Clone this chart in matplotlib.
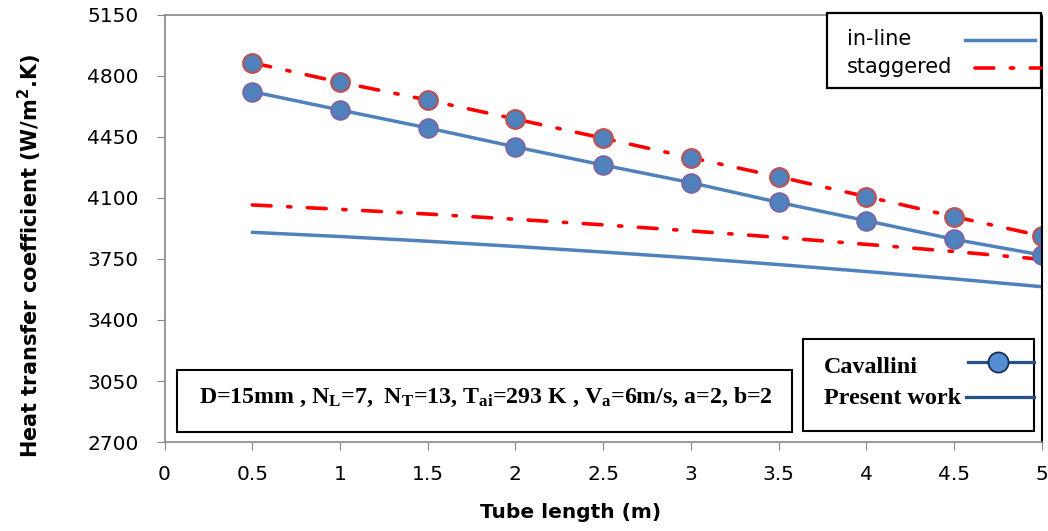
import matplotlib.pyplot as plt
from matplotlib.patches import Rectangle

# --- Data ---
tube_length = [0.5, 1.0, 1.5, 2.0, 2.5, 3.0, 3.5, 4.0, 4.5, 5.0]

cav_staggered = [4876, 4764, 4662, 4553, 4443, 4331, 4222, 4108, 3993, 3882]
cav_inline = [4710, 4605, 4502, 4393, 4289, 4188, 4075, 3970, 3863, 3773]
present_staggered = [4060, 4035, 4008, 3978, 3946, 3911, 3874, 3834, 3793, 3748]
present_inline = [3903, 3879, 3852, 3822, 3790, 3756, 3718, 3678, 3636, 3591]

x_ticks = [0, 0.5, 1, 1.5, 2, 2.5, 3, 3.5, 4, 4.5, 5]
y_ticks = [2700, 3050, 3400, 3750, 4100, 4450, 4800, 5150]

arrangement_labels = ['in-line', 'staggered']
source_labels = ['Cavallini', 'Present work']
params_text = r'D=15mm , N$_{L}$=7,  N$_{T}$=13, T$_{ai}$=293 K , V$_{a}$=6m/s, a=2, b=2'

# --- Style ---
BLUE = '#4F81BD'
RED = '#FF0000'
NAVY = '#27508A'
SANS = ['DejaVu Sans']
SERIF = ['Liberation Serif', 'DejaVu Serif']

plt.rcParams['mathtext.fontset'] = 'custom'
plt.rcParams['mathtext.rm'] = 'Liberation Serif:bold'
plt.rcParams['mathtext.it'] = 'Liberation Serif:bold'
plt.rcParams['mathtext.bf'] = 'Liberation Serif:bold'

dashdot = (0, (5.2, 4.6, 0.9, 4.6))

fig = plt.figure(figsize=(10.48, 5.31), dpi=100)
ax = fig.add_axes([0.157, 0.1676, 0.837, 0.8042])

# present work lines
ax.plot(tube_length, present_inline, color=BLUE, lw=2.5, solid_capstyle='round')
ax.plot(tube_length, present_staggered, color=RED, lw=2.6, linestyle=dashdot,
        dash_capstyle='round')

# Cavallini lines with markers
ax.plot(tube_length, cav_inline, color=BLUE, lw=2.5, marker='o', markersize=13.5,
        markerfacecolor=BLUE, markeredgecolor='#7E62A6', markeredgewidth=1.3)
ax.plot(tube_length, cav_staggered, color=RED, lw=2.6, linestyle=dashdot,
        dash_capstyle='round', marker='o', markersize=13.5,
        markerfacecolor=BLUE, markeredgecolor='#C0504D', markeredgewidth=1.5)

ax.set_xlim(0, 5)
ax.set_ylim(2700, 5150)
ax.set_xticks(x_ticks)
ax.set_xticklabels([f'{t:g}' for t in x_ticks], fontsize=14.5, family=SANS)
ax.set_yticks(y_ticks)
ax.set_yticklabels([str(t) for t in y_ticks], fontsize=14.5, family=SANS)
ax.tick_params(axis='both', direction='out', length=5.5, color='#888888')
ax.tick_params(axis='x', pad=11)
ax.tick_params(axis='y', pad=13)

for side in ['left', 'bottom', 'top']:
    ax.spines[side].set_color('#888888')
    ax.spines[side].set_linewidth(1.2)
ax.spines['right'].set_color('black')
ax.spines['right'].set_linewidth(1.5)

ax.set_xlabel('Tube length (m)', fontsize=14.5, fontweight='bold', family=SANS)
ax.xaxis.set_label_coords(0.4627, -0.1430)
ax.set_ylabel(r'Heat transfer coefficient (W/m$^{\mathbf{2}}$.K)', fontsize=15,
              fontweight='bold', family=SANS)
ax.yaxis.label.set_math_fontfamily('dejavusans')
ax.yaxis.set_label_coords(-0.1373, 0.4356)


def legend_box(x0, y0, x1, y1, lw):
    ax.add_patch(Rectangle((x0, y0), x1 - x0, y1 - y0, transform=ax.transAxes,
                           facecolor='white', edgecolor='black', lw=lw,
                           clip_on=False, zorder=5))


# arrangement legend (top right), Excel style: label left, sample right
legend_box(0.7550, 0.829, 0.9994, 1.0047, 1.6)
ax.text(0.7778, 0.9304, arrangement_labels[0], transform=ax.transAxes, fontsize=15,
        family=SANS, va='baseline', zorder=6)
ax.plot([0.9123, 0.9920], [0.9422, 0.9422], transform=ax.transAxes, color=BLUE,
        lw=2.5, clip_on=False, zorder=6)
ax.text(0.7778, 0.8642, arrangement_labels[1], transform=ax.transAxes, fontsize=15,
        family=SANS, va='baseline', zorder=6)
ax.plot([0.9236, 0.9994], [0.8759, 0.8759], transform=ax.transAxes, color=RED,
        lw=2.6, linestyle=dashdot, dash_capstyle='round', clip_on=False, zorder=6)

# source legend (bottom right)
legend_box(0.7273, 0.0265, 0.9909, 0.2412, 1.5)
ax.text(0.7516, 0.1623, source_labels[0], transform=ax.transAxes, fontsize=17.4,
        family=SERIF, fontweight='bold', va='baseline', zorder=6)
ax.plot([0.9157, 0.9909], [0.1874, 0.1874], transform=ax.transAxes, color=NAVY,
        lw=2.3, clip_on=False, zorder=6)
ax.plot([0.9499], [0.1874], transform=ax.transAxes, marker='o', markersize=14.5,
        markerfacecolor='#558ED5', markeredgecolor='#1A2F4F', markeredgewidth=1.3,
        clip_on=False, zorder=7)
ax.text(0.7516, 0.0890, source_labels[1], transform=ax.transAxes, fontsize=17.4,
        family=SERIF, fontweight='bold', va='baseline', zorder=6)
ax.plot([0.9142, 0.9909], [0.1061, 0.1061], transform=ax.transAxes, color=NAVY,
        lw=2.3, clip_on=False, zorder=6)

# parameter box
legend_box(0.0142, 0.0241, 0.7151, 0.1686, 1.5)
ax.text(0.0393, 0.0906, params_text, transform=ax.transAxes, fontsize=17.2,
        family=SERIF, fontweight='bold', va='baseline', ha='left', zorder=6)

fig.savefig('out.png', dpi=100)
